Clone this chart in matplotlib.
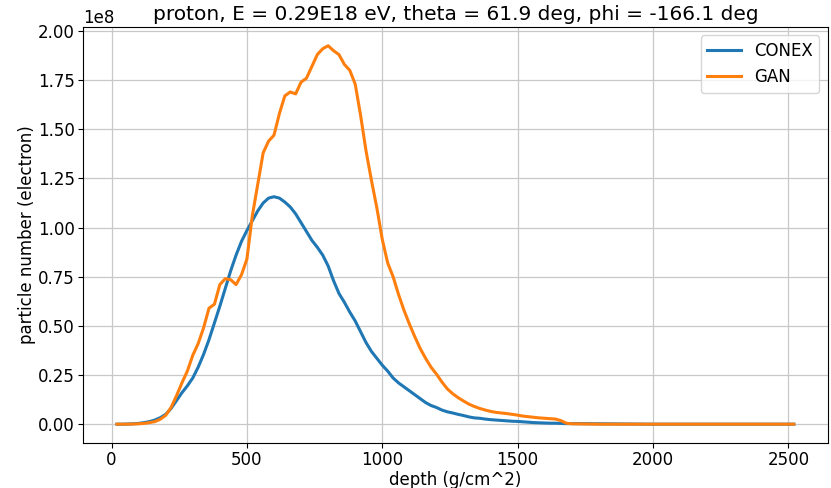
import matplotlib
matplotlib.use("Agg")
import matplotlib.pyplot as plt

depth = [20, 40, 60, 80, 100, 120, 140, 160, 180, 200,
         220, 240, 260, 280, 300, 320, 340, 360, 380, 400,
         420, 440, 460, 480, 500, 520, 540, 560, 580, 600,
         620, 640, 660, 680, 700, 720, 740, 760, 780, 800,
         820, 840, 860, 880, 900, 920, 940, 960, 980, 1000,
         1020, 1040, 1060, 1080, 1100, 1120, 1140, 1160, 1180, 1200,
         1220, 1240, 1260, 1280, 1300, 1320, 1340, 1360, 1380, 1400,
         1420, 1440, 1460, 1480, 1500, 1520, 1540, 1560, 1580, 1600,
         1620, 1640, 1660, 1680, 1700, 1800, 1900, 2000, 2100, 2200,
         2300, 2400, 2500, 2520]

# particle numbers in units of 1e8
conex = [0.000, 0.000, 0.001, 0.002, 0.004, 0.008, 0.013, 0.021, 0.033, 0.050,
         0.080, 0.120, 0.160, 0.195, 0.235, 0.290, 0.355, 0.430, 0.515, 0.600,
         0.690, 0.780, 0.860, 0.930, 0.985, 1.035, 1.085, 1.125, 1.150, 1.157,
         1.150, 1.130, 1.105, 1.070, 1.025, 0.980, 0.935, 0.900, 0.860, 0.805,
         0.730, 0.665, 0.620, 0.570, 0.525, 0.470, 0.415, 0.370, 0.335, 0.300,
         0.270, 0.235, 0.210, 0.190, 0.170, 0.150, 0.130, 0.110, 0.095, 0.085,
         0.072, 0.063, 0.057, 0.050, 0.044, 0.037, 0.032, 0.030, 0.026, 0.023,
         0.021, 0.019, 0.017, 0.015, 0.014, 0.012, 0.010, 0.008, 0.007, 0.006,
         0.005, 0.005, 0.004, 0.003, 0.003, 0.002, 0.001, 0.000, 0.000, 0.000,
         0.000, 0.000, 0.000, 0.000]

gan = [0.000, 0.000, 0.000, 0.001, 0.002, 0.004, 0.008, 0.013, 0.025, 0.045,
       0.085, 0.145, 0.210, 0.270, 0.350, 0.410, 0.490, 0.590, 0.610, 0.710,
       0.740, 0.735, 0.710, 0.760, 0.840, 1.060, 1.220, 1.380, 1.440, 1.470,
       1.580, 1.670, 1.690, 1.680, 1.740, 1.760, 1.820, 1.880, 1.910, 1.925,
       1.900, 1.880, 1.830, 1.800, 1.730, 1.570, 1.390, 1.240, 1.100, 0.940,
       0.820, 0.750, 0.660, 0.580, 0.510, 0.445, 0.385, 0.335, 0.290, 0.255,
       0.215, 0.180, 0.155, 0.135, 0.118, 0.102, 0.090, 0.080, 0.072, 0.065,
       0.060, 0.057, 0.054, 0.050, 0.046, 0.041, 0.038, 0.035, 0.032, 0.030,
       0.028, 0.026, 0.018, 0.005, 0.002, 0.000, 0.000, 0.000, 0.000, 0.000,
       0.000, 0.000, 0.000, 0.000]

title = "proton, E = 0.29E18 eV, theta = 61.9 deg, phi = -166.1 deg"

fig = plt.figure(figsize=(8.31, 4.88), dpi=100)
ax = fig.add_axes([0.1, 0.092, 0.896, 0.853])

ax.plot(depth, [v * 1e8 for v in conex], color="#1f77b4", lw=2.2, label="CONEX")
ax.plot(depth, [v * 1e8 for v in gan], color="#ff7f0e", lw=2.2, label="GAN")

ax.grid(True, color="#c8c8c8", lw=0.9)
ax.set_title(title, fontsize=14.5, pad=5)
ax.set_xlabel("depth (g/cm^2)", fontsize=12, labelpad=1)
ax.set_ylabel("particle number (electron)", fontsize=12, labelpad=1)
ax.tick_params(labelsize=12, pad=2.5)
ax.yaxis.get_offset_text().set_fontsize(12)
ax.legend(loc="upper right", fontsize=12)

fig.savefig("out.png", dpi=100)
plt.close(fig)
